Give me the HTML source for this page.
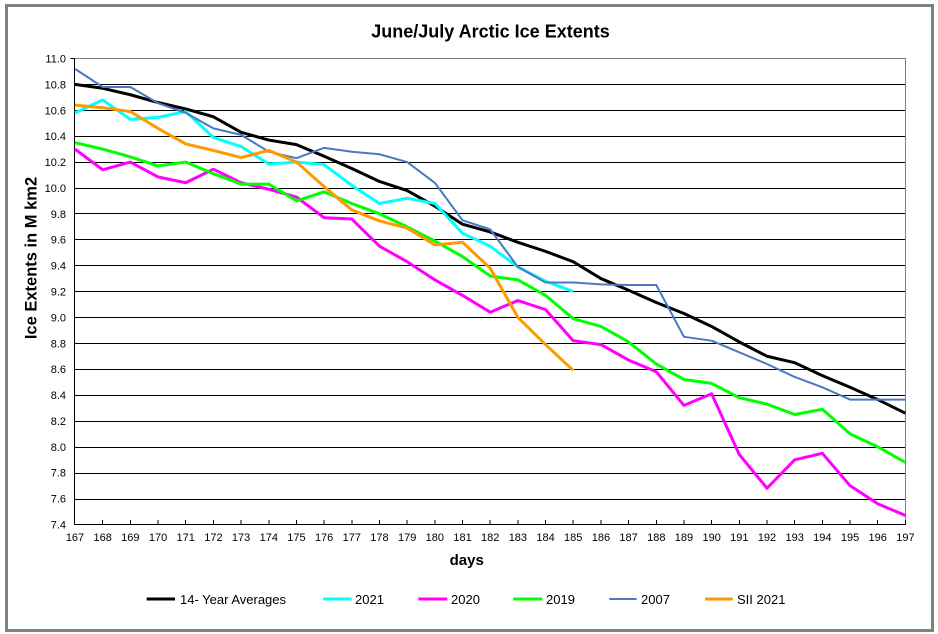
<!DOCTYPE html>
<html>
<head>
<meta charset="utf-8">
<style>
  html,body{margin:0;padding:0;background:#fff;}
  svg{display:block;}
  text{font-family:"Liberation Sans",Arial,sans-serif;fill:#000;}
</style>
</head>
<body>
<svg width="938" height="634" viewBox="0 0 938 634" xmlns="http://www.w3.org/2000/svg">
  <rect x="0" y="0" width="938" height="634" fill="#fff"/>
  <!-- outer frame -->
  <rect x="6.5" y="5.5" width="926" height="625" fill="none" stroke="#808080" stroke-width="3"/>

  <!-- title -->
  <text x="490.5" y="37.5" font-size="18" font-weight="bold" text-anchor="middle">June/July Arctic Ice Extents</text>

  <!-- gridlines -->
  <g stroke="#000" stroke-width="1" shape-rendering="crispEdges">
    <line x1="75" x2="905.5" y1="84.5" y2="84.5"/>
    <line x1="75" x2="905.5" y1="110.5" y2="110.5"/>
    <line x1="75" x2="905.5" y1="136.5" y2="136.5"/>
    <line x1="75" x2="905.5" y1="162.5" y2="162.5"/>
    <line x1="75" x2="905.5" y1="188.5" y2="188.5"/>
    <line x1="75" x2="905.5" y1="213.5" y2="213.5"/>
    <line x1="75" x2="905.5" y1="239.5" y2="239.5"/>
    <line x1="75" x2="905.5" y1="265.5" y2="265.5"/>
    <line x1="75" x2="905.5" y1="291.5" y2="291.5"/>
    <line x1="75" x2="905.5" y1="317.5" y2="317.5"/>
    <line x1="75" x2="905.5" y1="343.5" y2="343.5"/>
    <line x1="75" x2="905.5" y1="369.5" y2="369.5"/>
    <line x1="75" x2="905.5" y1="395.5" y2="395.5"/>
    <line x1="75" x2="905.5" y1="421.5" y2="421.5"/>
    <line x1="75" x2="905.5" y1="447.5" y2="447.5"/>
    <line x1="75" x2="905.5" y1="473.5" y2="473.5"/>
    <line x1="75" x2="905.5" y1="499.5" y2="499.5"/>
  </g>
  <!-- plot border top/right gray -->
  <g stroke="#808080" stroke-width="1" shape-rendering="crispEdges" fill="none">
    <polyline points="75,58.5 905.5,58.5 905.5,524.5"/>
  </g>
  <!-- axes -->
  <g stroke="#000" stroke-width="1" shape-rendering="crispEdges" fill="none">
    <line x1="74.5" y1="58" x2="74.5" y2="525"/>
    <line x1="74.5" y1="524.5" x2="906" y2="524.5"/>
    <line x1="70.5" y1="58.5" x2="74.5" y2="58.5"/>
    <path d="M102.68 520V524M130.36 520V524M158.04 520V524M185.72 520V524M213.4 520V524M241.08 520V524M268.76 520V524M296.44 520V524M324.12 520V524M351.8 520V524M379.48 520V524M407.16 520V524M434.84 520V524M462.52 520V524M490.2 520V524M517.88 520V524M545.56 520V524M573.24 520V524M600.92 520V524M628.6 520V524M656.28 520V524M683.96 520V524M711.64 520V524M739.32 520V524M767 520V524M794.68 520V524M822.36 520V524M850.04 520V524M877.72 520V524M905.4 520V524"/>
  </g>

  <!-- y tick labels -->
  <g font-size="11" text-anchor="end">
    <text x="66" y="62.5">11.0</text>
    <text x="66" y="88.4">10.8</text>
    <text x="66" y="114.3">10.6</text>
    <text x="66" y="140.2">10.4</text>
    <text x="66" y="166.1">10.2</text>
    <text x="66" y="191.9">10.0</text>
    <text x="66" y="217.8">9.8</text>
    <text x="66" y="243.7">9.6</text>
    <text x="66" y="269.6">9.4</text>
    <text x="66" y="295.5">9.2</text>
    <text x="66" y="321.4">9.0</text>
    <text x="66" y="347.3">8.8</text>
    <text x="66" y="373.2">8.6</text>
    <text x="66" y="399.1">8.4</text>
    <text x="66" y="424.9">8.2</text>
    <text x="66" y="450.8">8.0</text>
    <text x="66" y="476.7">7.8</text>
    <text x="66" y="502.6">7.6</text>
    <text x="66" y="528.5">7.4</text>
  </g>

  <!-- x tick labels -->
  <g font-size="11" text-anchor="middle">
    <text x="75" y="541">167</text>
    <text x="102.68" y="541">168</text>
    <text x="130.36" y="541">169</text>
    <text x="158.04" y="541">170</text>
    <text x="185.72" y="541">171</text>
    <text x="213.4" y="541">172</text>
    <text x="241.08" y="541">173</text>
    <text x="268.76" y="541">174</text>
    <text x="296.44" y="541">175</text>
    <text x="324.12" y="541">176</text>
    <text x="351.8" y="541">177</text>
    <text x="379.48" y="541">178</text>
    <text x="407.16" y="541">179</text>
    <text x="434.84" y="541">180</text>
    <text x="462.52" y="541">181</text>
    <text x="490.2" y="541">182</text>
    <text x="517.88" y="541">183</text>
    <text x="545.56" y="541">184</text>
    <text x="573.24" y="541">185</text>
    <text x="600.92" y="541">186</text>
    <text x="628.6" y="541">187</text>
    <text x="656.28" y="541">188</text>
    <text x="683.96" y="541">189</text>
    <text x="711.64" y="541">190</text>
    <text x="739.32" y="541">191</text>
    <text x="767" y="541">192</text>
    <text x="794.68" y="541">193</text>
    <text x="822.36" y="541">194</text>
    <text x="850.04" y="541">195</text>
    <text x="877.72" y="541">196</text>
    <text x="905.4" y="541">197</text>
  </g>

  <!-- axis titles -->
  <text x="466.7" y="565" font-size="15" font-weight="bold" text-anchor="middle">days</text>
  <text transform="translate(36.5,258) rotate(-90)" font-size="16.5" font-weight="bold" text-anchor="middle">Ice Extents in M km2</text>

  <!-- series -->
  <g transform="translate(-4547.56,1482.39) scale(27.68,-129.444)" fill="none" stroke-linejoin="round" stroke-linecap="butt">
    <polyline vector-effect="non-scaling-stroke" stroke="#000" stroke-width="3"
      points="167,10.80 168,10.77 169,10.72 170,10.66 171,10.61 172,10.55 173,10.43 174,10.37 175,10.335 176,10.245 177,10.15 178,10.05 179,9.98 180,9.86 181,9.72 182,9.66 183,9.58 184,9.51 185,9.43 186,9.30 187,9.21 188,9.115 189,9.03 190,8.93 191,8.81 192,8.70 193,8.65 194,8.55 195,8.46 196,8.365 197,8.26"/>
    <polyline vector-effect="non-scaling-stroke" stroke="#00FFFF" stroke-width="3"
      points="167,10.58 168,10.68 169,10.53 170,10.545 171,10.59 172,10.39 173,10.32 174,10.185 175,10.20 176,10.18 177,10.02 178,9.88 179,9.92 180,9.88 181,9.65 182,9.55 183,9.39 184,9.28 185,9.20"/>
    <polyline vector-effect="non-scaling-stroke" stroke="#FF00FF" stroke-width="3"
      points="167,10.30 168,10.14 169,10.20 170,10.085 171,10.04 172,10.145 173,10.04 174,9.99 175,9.93 176,9.77 177,9.76 178,9.55 179,9.43 180,9.29 181,9.17 182,9.04 183,9.13 184,9.06 185,8.82 186,8.79 187,8.67 188,8.58 189,8.32 190,8.41 191,7.94 192,7.68 193,7.90 194,7.95 195,7.70 196,7.56 197,7.47"/>
    <polyline vector-effect="non-scaling-stroke" stroke="#00FF00" stroke-width="3"
      points="167,10.35 168,10.30 169,10.24 170,10.17 171,10.20 172,10.11 173,10.03 174,10.03 175,9.90 176,9.97 177,9.88 178,9.80 179,9.70 180,9.59 181,9.47 182,9.32 183,9.29 184,9.17 185,8.99 186,8.93 187,8.81 188,8.64 189,8.52 190,8.49 191,8.38 192,8.33 193,8.25 194,8.29 195,8.10 196,8.00 197,7.88"/>
    <polyline vector-effect="non-scaling-stroke" stroke="#4A78C4" stroke-width="2"
      points="167,10.92 168,10.78 169,10.78 170,10.655 171,10.58 172,10.46 173,10.41 174,10.28 175,10.23 176,10.31 177,10.28 178,10.26 179,10.20 180,10.04 181,9.75 182,9.68 183,9.39 184,9.27 185,9.27 186,9.255 187,9.25 188,9.25 189,8.85 190,8.82 191,8.73 192,8.64 193,8.54 194,8.46 195,8.365 196,8.365 197,8.365"/>
    <polyline vector-effect="non-scaling-stroke" stroke="#FF9900" stroke-width="3"
      points="167,10.64 168,10.62 169,10.59 170,10.46 171,10.34 172,10.29 173,10.235 174,10.29 175,10.20 176,10.01 177,9.83 178,9.745 179,9.69 180,9.56 181,9.58 182,9.38 183,9.00 184,8.79 185,8.59"/>
  </g>

  <!-- legend -->
  <g font-size="13">
    <line x1="146.7" y1="599" x2="175" y2="599" stroke="#000" stroke-width="3"/>
    <text x="180" y="604">14- Year Averages</text>
    <line x1="323.3" y1="599" x2="351.7" y2="599" stroke="#00FFFF" stroke-width="3"/>
    <text x="355" y="604">2021</text>
    <line x1="418.3" y1="599" x2="447.3" y2="599" stroke="#FF00FF" stroke-width="3"/>
    <text x="451" y="604">2020</text>
    <line x1="513.3" y1="599" x2="542.3" y2="599" stroke="#00FF00" stroke-width="3"/>
    <text x="546" y="604">2019</text>
    <line x1="609.3" y1="599" x2="636.7" y2="599" stroke="#4A78C4" stroke-width="2"/>
    <text x="641" y="604">2007</text>
    <line x1="705" y1="599" x2="732.7" y2="599" stroke="#FF9900" stroke-width="3"/>
    <text x="737" y="604">SII 2021</text>
  </g>
</svg>
</body>
</html>
